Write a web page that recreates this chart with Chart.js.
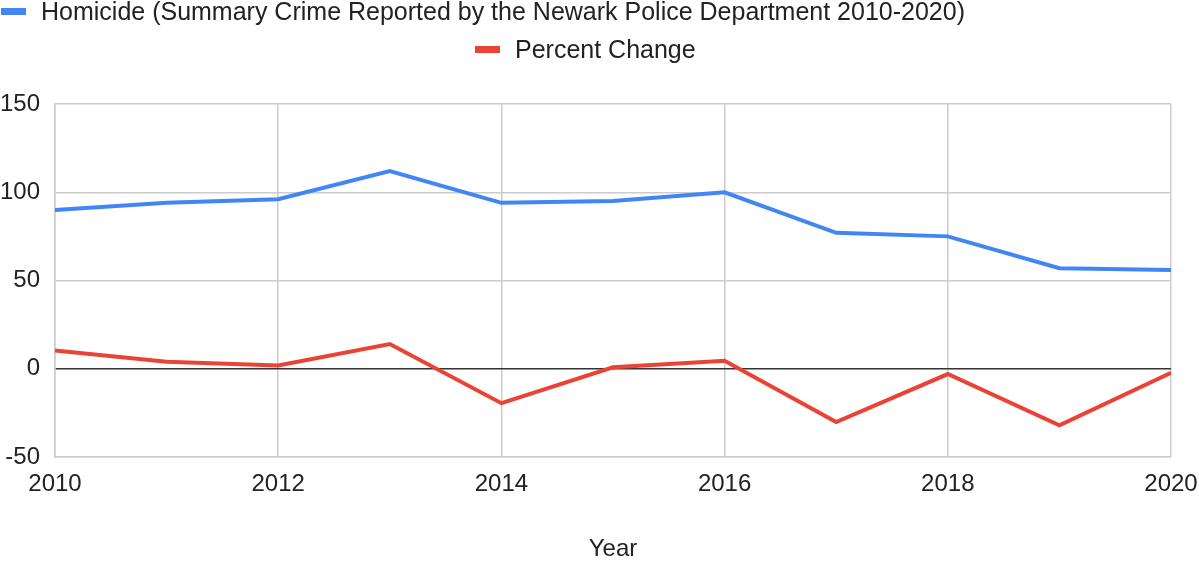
<!DOCTYPE html>
<html>
<head>
<meta charset="utf-8">
<script src="https://cdn.jsdelivr.net/npm/chart.js@4.4.1/dist/chart.umd.min.js"></script>
<style>
  html, body { margin: 0; padding: 0; background: #fff; }
  #wrap { position: relative; width: 1199px; height: 564px; overflow: hidden; }
  #c { position: absolute; left: 0; top: 0; }
  .lg { position: absolute; font-family: "Liberation Sans", Arial, sans-serif; font-size: 25px; line-height: 28px; color: #222; white-space: nowrap; }
  .mk { position: absolute; width: 25px; height: 7px; }
</style>
</head>
<body>
<div id="wrap">
  <canvas id="c" width="1199" height="564"></canvas>
  <div id="legend"></div>
</div>
<script>
const years = [2010, 2011, 2012, 2013, 2014, 2015, 2016, 2017, 2018, 2019, 2020];
const homicides = [90, 94, 96, 112, 94, 95, 100, 77, 75, 57, 56];
const percentChange = [10.4, 4, 1.9, 14, -19.5, 0.8, 4.5, -30.2, -3, -32, -2.3];
const seriesNames = ["Homicide (Summary Crime Reported by the Newark Police Department 2010-2020)", "Percent Change"];
const seriesColors = ["#4285F4", "#EA4335"];
const yTicks = [-50, 0, 50, 100, 150];
const xTitle = "Year";

const FONT = '"Liberation Sans", Arial, sans-serif';
const toPts = arr => years.map((yr, i) => ({ x: yr, y: arr[i] }));

const chart = new Chart(document.getElementById('c'), {
  type: 'line',
  data: {
    datasets: [
      { label: seriesNames[0], data: toPts(homicides), borderColor: seriesColors[0], backgroundColor: seriesColors[0], borderWidth: 4, pointRadius: 0, tension: 0 },
      { label: seriesNames[1], data: toPts(percentChange), borderColor: seriesColors[1], backgroundColor: seriesColors[1], borderWidth: 4, pointRadius: 0, tension: 0 }
    ]
  },
  options: {
    responsive: false,
    animation: false,
    devicePixelRatio: 1,
    layout: { padding: { top: 104, right: 28, bottom: 0, left: 0 } },
    plugins: { legend: { display: false }, tooltip: { enabled: false } },
    scales: {
      x: {
        type: 'linear',
        min: years[0],
        max: years[years.length - 1],
        grid: { color: '#cccccc', lineWidth: 1.5, drawTicks: false },
        border: { display: true, color: '#cccccc', width: 1.5 },
        ticks: { stepSize: 2, autoSkip: false, maxRotation: 0, padding: 13, color: '#222', font: { family: FONT, size: 24 }, callback: v => String(v) },
        title: { display: true, text: xTitle, color: '#222', font: { family: FONT, size: 24 }, padding: { top: 0, bottom: 0 } },
        afterFit: s => { s.height = 107; s.paddingLeft = 0; s.paddingRight = 0; }
      },
      y: {
        type: 'linear',
        min: yTicks[0],
        max: yTicks[yTicks.length - 1],
        afterBuildTicks: s => { s.ticks = yTicks.map(v => ({ value: v })); },
        grid: {
          color: c => (c.tick && c.tick.value === 0) ? '#333333' : '#cccccc',
          lineWidth: c => (c.tick && c.tick.value === 0) ? 1.5 : 1.5,
          drawTicks: false
        },
        border: { display: true, color: '#cccccc', width: 1.5 },
        ticks: { padding: 15, color: '#222', font: { family: FONT, size: 24 } },
        afterFit: s => { s.width = 55; s.paddingTop = 0; s.paddingBottom = 0; }
      }
    }
  }
});

// HTML legend built from the chart's datasets
const legendPos = [
  { mx: 1, my: 8, tx: 41, ty: -3 },
  { mx: 475, my: 46, tx: 515, ty: 35 }
];
const lg = document.getElementById('legend');
chart.data.datasets.forEach((ds, i) => {
  const p = legendPos[i];
  const m = document.createElement('div');
  m.className = 'mk';
  m.style.left = p.mx + 'px'; m.style.top = p.my + 'px';
  m.style.background = ds.borderColor;
  lg.appendChild(m);
  const t = document.createElement('div');
  t.className = 'lg';
  t.style.left = p.tx + 'px'; t.style.top = p.ty + 'px';
  t.textContent = ds.label;
  lg.appendChild(t);
});
</script>
</body>
</html>
